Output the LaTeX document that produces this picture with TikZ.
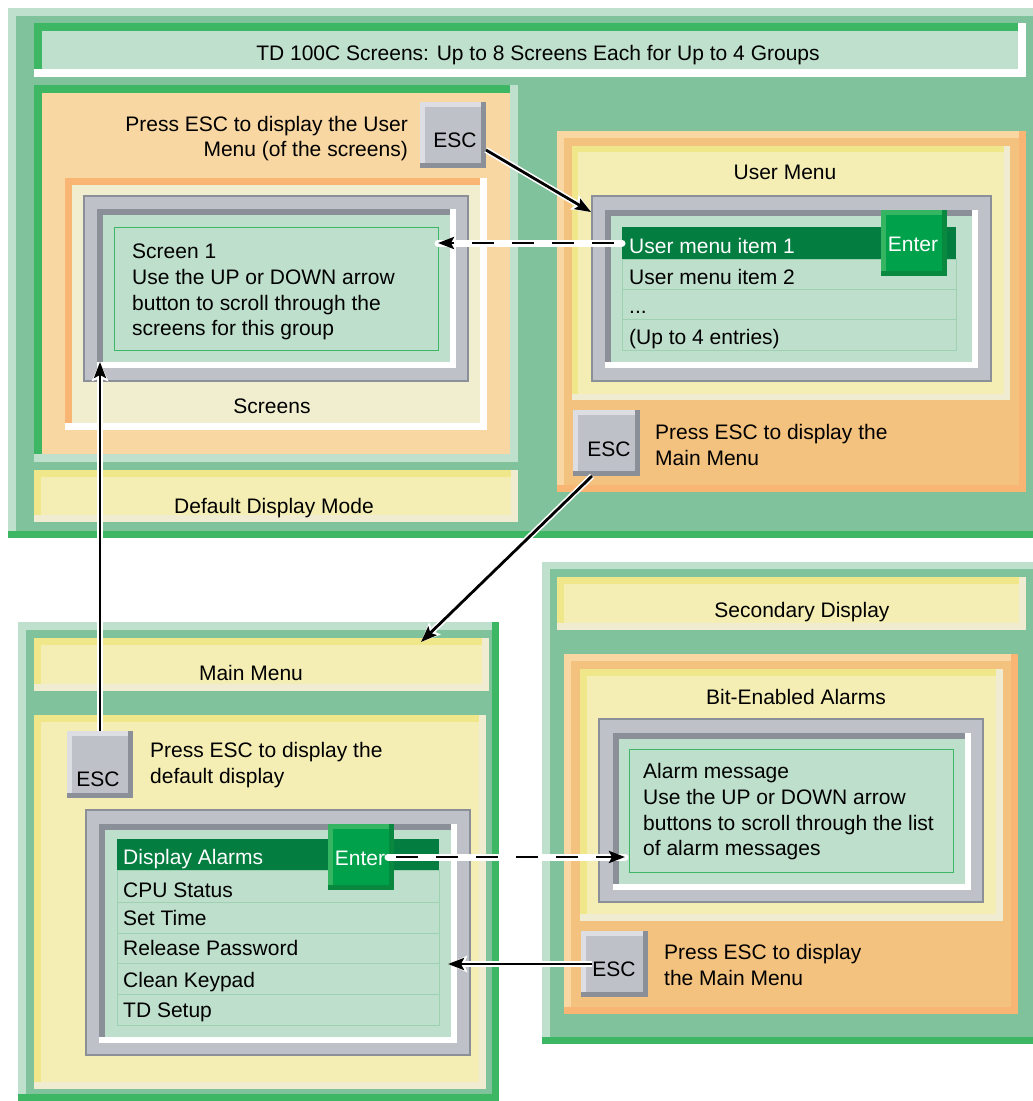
\documentclass[tikz,border=0pt]{standalone}
\usepackage{fontspec}
\setmainfont{Liberation Sans}
\usetikzlibrary{arrows.meta,fit}

\definecolor{rimPale}{HTML}{BFE0CD}
\definecolor{fieldGreen}{HTML}{80C29C}
\definecolor{edgeGreen}{HTML}{3DB764}
\definecolor{peachLight}{HTML}{F8D7A2}
\definecolor{peachMid}{HTML}{F4C27F}
\definecolor{peachDark}{HTML}{F9B574}
\definecolor{cream}{HTML}{F1EECF}
\definecolor{lemon}{HTML}{F4EEB4}
\definecolor{lemonDark}{HTML}{F0E68A}
\definecolor{lemonLight}{HTML}{EFECD2}
\definecolor{bezelGray}{HTML}{BFC1C9}
\definecolor{bezelDark}{HTML}{8B8F97}
\definecolor{keyLight}{HTML}{DDDEE3}
\definecolor{lcdGreen}{HTML}{BEDFCC}
\definecolor{rowDark}{HTML}{037D40}
\definecolor{rowLine}{HTML}{9ED1B1}
\definecolor{enterGreen}{HTML}{00A14B}
\definecolor{enterLight}{HTML}{35B561}
\definecolor{enterDark}{HTML}{08893F}

\begin{document}
\begin{tikzpicture}[x=1pt,y=-1pt,
  bevel/.style n args={4}{rectangle,inner sep=0pt,outer sep=0pt,fill=#2,
    path picture={
      \fill[#1] (path picture bounding box.north west) rectangle ([xshift=-#4,yshift=#4]path picture bounding box.south east);
      \fill[#3] ([xshift=#4,yshift=-#4]path picture bounding box.north west) rectangle ([xshift=-#4,yshift=#4]path picture bounding box.south east);
    }},
  greenpanel/.style={bevel={rimPale}{edgeGreen}{fieldGreen}{7.5pt}},
  peachpanel/.style={bevel={peachLight}{peachDark}{peachMid}{7pt}},
  lemonbar/.style={bevel={lemonDark}{lemonLight}{lemon}{7pt}},
  bezel/.style={bevel={bezelDark}{bezelDark}{bezelGray}{2pt}},
  lcd/.style={bevel={bezelDark}{white}{lcdGreen}{6pt}},
  esckey/.style={bevel={keyLight}{bezelDark}{bezelGray}{5pt}},
  enterkey/.style={bevel={enterLight}{enterDark}{enterGreen}{5pt}},
  msgbox/.style={rectangle,inner sep=0pt,outer sep=0pt,fill=lcdGreen,draw=edgeGreen,line width=1pt},
  rowitem/.style={rectangle,inner sep=0pt,outer sep=0pt,fill=lcdGreen,draw=rowLine,line width=1pt},
  rowsel/.style={rectangle,inner sep=0pt,outer sep=0pt,fill=rowDark},
  lbl/.style={anchor=base west,inner sep=0pt,font=\fontsize{21}{25}\selectfont},
  lblc/.style={lbl,anchor=base},
  lblr/.style={lbl,anchor=base east},
  link/.style={line width=2.8pt,-{Stealth[length=16pt,width=12pt,inset=3pt]},
    preaction={draw=white,line width=6pt,-{Stealth[length=19pt,width=16pt,inset=3pt]}}},
  dlink/.style={line width=2.8pt,dash pattern=on 22pt off 18pt,dash phase=-8pt,-{Stealth[length=16pt,width=12pt,inset=3pt]},
    preaction={draw=white,solid,line width=7pt,line cap=round,-}}]
\path[use as bounding box] (0,0) rectangle (1033.0,1101.0);
\fill[white] (0,0) rectangle (1033,1101);

% top group: default display mode
\node[greenpanel,fit={(8,8) (1040,538)}] (topPanel) {};
\node[bevel={edgeGreen}{white}{rimPale}{8pt},fit={(34,23) (1026,77)}] (titleBar) {};
\node[lblc] (tTitle) at (538,60) {TD 100C Screens: Up to 8 Screens Each for Up to 4 Groups};
\node[bevel={edgeGreen}{rimPale}{peachLight}{8pt},fit={(34,85) (518,462)}] (groupPanel) {};
\node[esckey,fit={(420,102) (486,168)}] (escTop) {};
\node[lblc] (tEscTop) at (455,147) {ESC};
\node[lblr] (tUserHint1) at (408,131) {Press ESC to display the User};
\node[lblr] (tUserHint2) at (408,156) {Menu (of the screens)};
\node[bevel={peachDark}{white}{cream}{7pt},fit={(65,178) (487,430)}] (screensFrame) {};
\node[bezel,fit={(83,195) (469,382)}] (screenBezel) {};
\node[lcd,fit={(97,209) (456,368)}] (screenLcd) {};
\node[msgbox,fit={(114,227) (438,350)}] (screenBox) {};
\node[lbl] (tScreen1) at (132,258.5) {Screen 1};
\node[lbl] (tScreen2) at (132,284.5) {Use the UP or DOWN arrow};
\node[lbl] (tScreen3) at (132,310.5) {button to scroll through the};
\node[lbl] (tScreen4) at (132,335.5) {screens for this group};
\node[lblc] (tScreens) at (272,413) {Screens};
\node[lemonbar,fit={(34,470) (518,522)}] (defaultBar) {};
\node[lblc] (tDefault) at (274,513) {Default Display Mode};

% user menu
\node[peachpanel,fit={(557,131) (1026,492)}] (userPanel) {};
\node[bevel={lemonDark}{lemonLight}{lemon}{6pt},fit={(572,146) (1010,400)}] (userBox) {};
\node[lblc] (tUserMenu) at (785,179) {User Menu};
\node[bezel,fit={(591,195) (992,382)}] (userBezel) {};
\node[lcd,fit={(605,210) (978,368)}] (userLcd) {};
\node[rowsel,fit={(622,227) (956,259)}] (userItem1) {};
\node[rowitem,fit={(622,259) (956,289)}] (userItem2) {};
\node[rowitem,fit={(622,289) (956,319)}] (userItem3) {};
\node[rowitem,fit={(622,319) (956,350)}] (userItem4) {};
\node[lbl,text=white] (tUserItem1) at (629,253.5) {User menu item 1};
\node[lbl] (tUserItem2) at (629,284.5) {User menu item 2};
\node[lbl] (tUserItem3) at (629,313) {...};
\node[lbl] (tUserItem4) at (629,344.5) {(Up to 4 entries)};
\node[enterkey,fit={(881,210) (947,276)}] (enterUser) {};
\node[lblc,text=white] (tEnterUser) at (913,251) {Enter};
\node[esckey,fit={(573,410) (640,476)}] (escUser) {};
\node[lblc] (tEscUser) at (609,456) {ESC};
\node[lbl] (tMainHint1) at (655,439.5) {Press ESC to display the};
\node[lbl] (tMainHint2) at (655,465.5) {Main Menu};

% main menu
\node[greenpanel,fit={(18,622) (499,1101)}] (mainPanel) {};
\node[lemonbar,fit={(34,638) (489,691)}] (mainTitle) {};
\node[lblc] (tMainMenu) at (251,680) {Main Menu};
\node[lemonbar,fit={(34,715) (486,1089)}] (mainBody) {};
\node[esckey,fit={(67,731) (133,798)}] (escMain) {};
\node[lblc] (tEscMain) at (98,786) {ESC};
\node[lbl] (tDefHint1) at (150,757.5) {Press ESC to display the};
\node[lbl] (tDefHint2) at (150,783.5) {default display};
\node[bezel,fit={(85,809) (471,1056)}] (mainBezel) {};
\node[lcd,fit={(99,824) (457,1043)}] (mainLcd) {};
\node[rowsel,fit={(117,839) (439,870)}] (mainItem1) {};
\node[rowitem,fit={(117,870) (439,902)}] (mainItem2) {};
\node[rowitem,fit={(117,902) (439,933)}] (mainItem3) {};
\node[rowitem,fit={(117,933) (439,963)}] (mainItem4) {};
\node[rowitem,fit={(117,963) (439,994)}] (mainItem5) {};
\node[rowitem,fit={(117,994) (439,1025)}] (mainItem6) {};
\node[lbl,text=white] (tMainItem1) at (123,864) {Display Alarms};
\node[lbl] (tMainItem2) at (123,897) {CPU Status};
\node[lbl] (tMainItem3) at (123,925.5) {Set Time};
\node[lbl] (tMainItem4) at (123,955.5) {Release Password};
\node[lbl] (tMainItem5) at (123,987) {Clean Keypad};
\node[lbl] (tMainItem6) at (123,1017.5) {TD Setup};
\node[enterkey,fit={(328,824) (394,890)}] (enterMain) {};
\node[lblc,text=white] (tEnterMain) at (360,865.5) {Enter};

% secondary display
\node[greenpanel,fit={(542,561.5) (1040,1044)}] (secPanel) {};
\node[lemonbar,fit={(557,576.5) (1026,629.5)}] (secTitle) {};
\node[lblc] (tSecondary) at (802,617.5) {Secondary Display};
\node[peachpanel,fit={(564,654) (1018,1014)}] (secBody) {};
\node[lemonbar,fit={(580,669) (1003,921)}] (alarmPanel) {};
\node[lblc] (tAlarms) at (796,704) {Bit-Enabled Alarms};
\node[bezel,fit={(598,718) (984,903)}] (secBezel) {};
\node[lcd,fit={(613,733) (971,890)}] (secLcd) {};
\node[msgbox,fit={(629,749) (953,872)}] (alarmBox) {};
\node[lbl] (tAlarm1) at (643,778) {Alarm message};
\node[lbl] (tAlarm2) at (643,804) {Use the UP or DOWN arrow};
\node[lbl] (tAlarm3) at (643,830.5) {buttons to scroll through the list};
\node[lbl] (tAlarm4) at (643,855) {of alarm messages};
\node[esckey,fit={(581,931) (648,997)}] (escSec) {};
\node[lblc] (tEscSec) at (614,976.5) {ESC};
\node[lbl] (tBackHint1) at (664,959) {Press ESC to display};
\node[lbl] (tBackHint2) at (664,985) {the Main Menu};

% connectors
\draw[link] ([yshift=-15pt]escTop.east) -- ([yshift=-17pt]userBezel.north west);
\draw[dlink] (userItem1.west) -- (userItem1.west -| screenBox.east);
\draw[link,shorten >=12pt] (escMain.north) -- (escMain.north |- screenBox.south);
\draw[link] ([xshift=19pt]escUser.south west) -- ([xshift=-68pt,yshift=-4pt]mainTitle.north east);
\draw[dlink,shorten >=4pt] ([xshift=-6pt]enterMain.east) -- (alarmBox.west |- enterMain.east);
\draw[link,shorten >=9pt] ([xshift=11pt]escSec.west) -- (mainItem4.east |- escSec.west);
\end{tikzpicture}
\end{document}
